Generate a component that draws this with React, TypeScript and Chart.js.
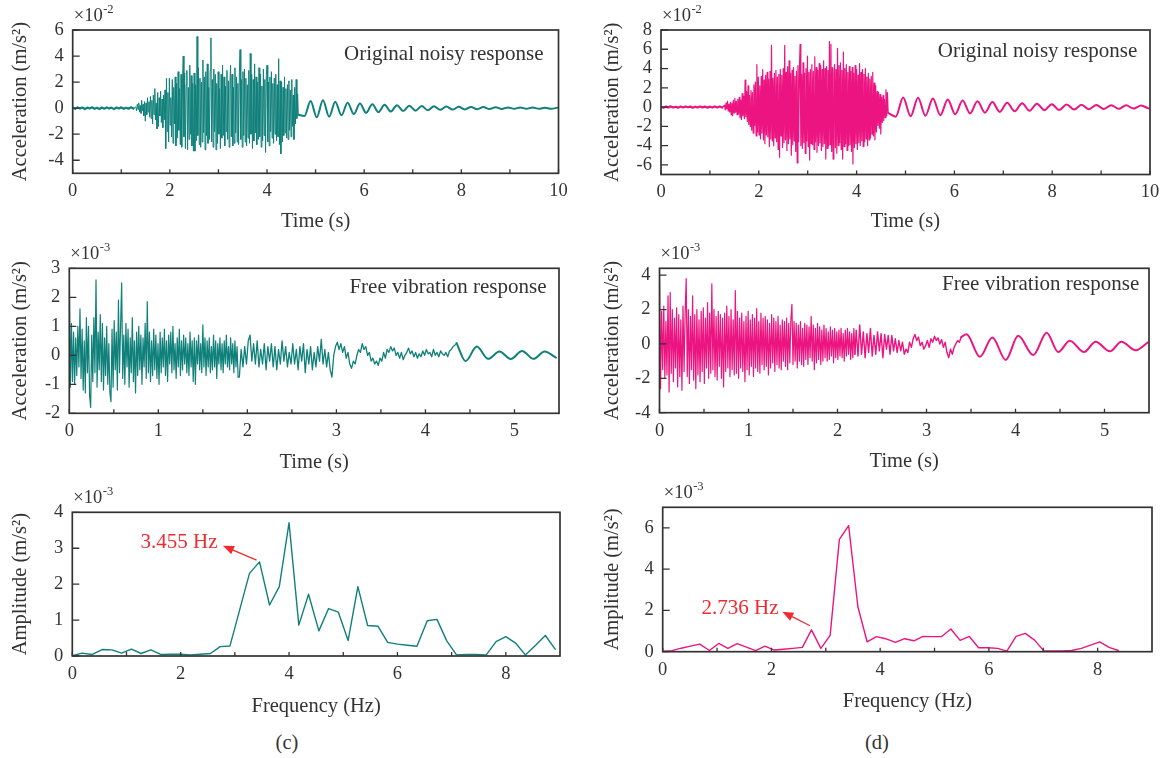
import React, { useEffect, useRef } from 'react';
import { Chart, registerables } from 'chart.js';

Chart.register(...registerables);

const FONT = '"Liberation Serif", "DejaVu Serif", serif';
const INK = '#333333';
const TEAL = '#10807a';
const PINK = '#ec1480';
const RED = '#ee2b30';
const TICK_SIZE = 18.5;
const TITLE_SIZE = 20.5;
const NOTE_SIZE = 21;

Chart.defaults.font.family = FONT;
Chart.defaults.color = INK;

// ---------------- (a) original noisy response, teal (×10^-2 m/s²) ----------------
const aQuietStart = 0;
const aQuietStep = 0.05;
const aQuiet = [0.03,-0.05,0.06,-0.03,0.05,-0.06,0.04,-0.02,0.07,-0.05,0.03,-0.06,0.05,-0.04,0.06,-0.03,0.04,-0.07,0.05,-0.02,0.06,-0.05,0.03,-0.04,0.07,-0.03];
const aBurstStart = 1.3;
const aBurstStep = 0.015;
const aBurst = [
  0.1,-0.2,0.3,-0.1,0.4,-0.3,0.2,-0.4,0.6,-0.2,
  0.3,-0.6,0.5,-1.0,0.4,-0.5,0.8,-0.3,0.5,-0.7,
  0.9,-0.8,0.6,-1.2,1.0,-0.5,1.5,-0.9,0.4,-1.6,
  1.2,-1.4,0.8,-0.6,1.3,-1.1,0.7,-1.5,1.0,-0.9,
  1.4,-3.1,2.3,-1.8,1.2,-2.6,2.3,-1.3,0.8,-2.2,
  2.2,-2.7,1.6,-1.2,2.4,-2.9,1.9,-2.3,2.8,-1.7,
  1.5,-2.8,2.6,-3.0,1.9,4.0,-2.2,2.7,-3.1,1.8,
  2.9,-3.2,1.6,-2.4,3.3,-2.0,2.5,-2.9,1.9,-3.3,
  2.7,-3.3,1.8,-2.5,5.5,-2.1,3.1,-2.8,2.3,-3.0,
  2.0,-2.6,3.7,-1.9,2.4,-3.2,2.8,-2.1,3.4,-2.7,
  1.6,-2.4,2.9,5.4,-2.6,2.2,-3.0,3.0,-1.8,2.6,
  -3.2,1.9,-2.7,2.8,-2.0,1.5,-3.1,2.6,-2.3,3.3,
  -2.1,2.4,-2.9,1.7,-1.8,2.9,-2.4,2.1,-3.0,1.8,
  3.3,-2.2,2.6,-2.9,1.6,-2.7,3.1,-1.9,2.4,-2.6,
  1.9,-2.8,2.7,4.5,-2.4,2.2,-3.0,2.8,-2.1,3.0,
  -2.6,2.3,-2.9,1.8,-2.3,2.9,-2.7,4.2,-2.0,2.6,
  -3.1,2.2,-2.5,3.4,-1.9,2.4,-2.8,2.0,-2.4,3.1,
  -2.2,2.6,-3.0,1.7,-2.5,3.0,-2.1,2.2,-3.4,2.5,
  3.3,-2.6,2.0,-2.9,2.4,-1.8,2.8,-2.3,1.9,-2.7,
  2.3,-2.0,2.6,-2.5,1.8,-2.2,3.8,-2.8,2.1,-3.5,
  2.0,-2.6,1.6,-2.1,2.4,-1.9,1.5,-2.3,1.8,-2.4,
  2.1,-1.7,1.4,-2.2,2.2,-1.4,1.0,-2.4,1.6,-1.2,
  2.2,-0.8,1.1,-0.5,
];
const aTailStart = 4.77;
const aTailStep = 0.127;
const aTail = [-0.6,0.55,-0.7,0.6,-0.65,0.5,-0.55,0.42,-0.45,0.35,-0.36,0.3,-0.3,0.26,-0.26,0.22,-0.22,0.19,-0.19,0.17,-0.16,0.14,-0.13,0.12,-0.11,0.1,-0.1,0.09,-0.08,0.08,-0.07,0.07,-0.06,0.06,-0.05,0.06,-0.05,0.05,-0.05,0.04,-0.05,0.04];

// ---------------- (b) original noisy response, pink (×10^-2 m/s²) ----------------
const bQuietStart = 0;
const bQuietStep = 0.05;
const bQuiet = [0.04,-0.06,0.05,-0.03,0.07,-0.05,0.03,-0.06,0.05,-0.04,0.06,-0.02,0.05,-0.07,0.04,-0.05,0.06,-0.03,0.05,-0.06,0.04,-0.05,0.07,-0.04,0.06,-0.05];
const bBurstStart = 1.3;
const bBurstStep = 0.015;
const bBurst = [
  0.2,-0.3,0.4,-0.2,0.6,-0.4,0.3,-0.5,0.5,-0.8,
  0.4,-0.9,0.7,-0.6,0.9,-0.5,0.6,-0.8,0.8,-0.7,
  1.0,-1.1,0.7,-1.3,1.4,-0.9,1.1,-1.2,2.8,-1.0,
  1.6,-1.5,2.2,-1.8,1.2,-2.0,1.7,-2.4,1.5,-2.7,
  2.3,-1.9,2.6,-3.0,4.4,-2.6,3.1,-2.9,2.2,-3.3,
  3.2,-2.7,3.9,-3.4,2.8,-3.8,3.3,-2.9,3.6,-3.1,
  2.9,-4.1,3.7,-3.3,6.4,-3.5,3.0,-4.0,3.5,-3.2,
  3.8,-3.6,3.1,-4.4,3.4,-5.2,3.9,-3.0,3.3,-4.2,
  4.0,-3.7,6.4,-3.4,3.6,-4.5,4.2,-3.8,4.8,-3.3,
  3.5,-5.0,3.8,-3.9,4.1,-3.5,3.2,-4.6,3.7,-5.8,
  4.3,-3.6,3.9,6.5,-4.0,3.4,-4.3,4.6,-3.7,3.5,
  -4.8,4.0,-3.5,5.3,-4.1,3.6,-5.5,3.9,-3.8,4.4,
  -3.9,3.7,-4.4,5.2,-3.6,4.1,-4.7,3.8,-4.0,4.5,
  -3.7,4.3,-4.5,3.9,-4.1,4.8,-3.8,4.0,-5.4,4.2,
  -4.3,3.8,-4.0,6.8,-3.9,6.5,-4.6,4.1,-5.4,3.7,
  4.4,-4.2,3.9,-4.8,6.1,-4.0,4.3,-3.7,4.6,-4.4,
  3.8,-5.4,5.7,-4.1,4.0,-3.8,4.4,-4.5,3.6,-4.0,
  4.2,-3.9,3.7,-4.6,4.1,-5.9,3.5,-4.2,4.3,-3.8,
  3.9,-4.4,3.3,-3.7,4.5,-4.0,3.6,-3.5,3.9,-4.1,
  3.4,-3.6,4.0,-3.3,3.1,-4.0,3.5,-3.4,2.9,-3.2,
  3.2,-2.8,3.6,-3.0,2.5,-3.4,2.2,-2.6,1.6,-1.9,
  1.5,-2.2,1.3,-2.8,1.0,-1.6,1.2,-1.4,0.8,-1.1,
  1.8,-0.9,1.5,-0.6,
];
const bTailStart = 4.8;
const bTailStep = 0.152;
const bTail = [-1.0,1.0,-0.95,0.98,-0.9,0.9,-0.85,0.78,-0.75,0.68,-0.66,0.6,-0.58,0.52,-0.5,0.45,-0.44,0.4,-0.38,0.35,-0.33,0.3,-0.3,0.27,-0.26,0.24,-0.23,0.22,-0.2,0.2,-0.18,0.18,-0.16,0.16,-0.14];

// ---------------- (c) free vibration response, teal (×10^-3 m/s²) ----------------
const cEarlyStart = 0;
const cEarlyStep = 0.012;
const cEarly = [
  2.9,-1.1,1.1,-0.9,0.8,-1.0,0.6,-0.7,1.0,-0.4,
  1.6,-0.8,0.9,-1.2,0.5,-1.3,1.3,-0.6,1.0,-1.4,
  -1.8,0.7,-0.9,1.3,-0.6,2.6,-1.1,0.8,-0.5,1.4,
  -0.9,1.1,-1.2,0.6,-0.7,1.0,-1.0,0.4,-1.3,-1.6,
  0.9,-1.1,1.2,-0.5,0.8,-1.2,1.9,-0.6,1.0,2.5,
  -0.8,0.7,-1.0,1.1,-0.4,0.9,-1.1,0.6,-0.6,1.3,
  -0.9,0.5,-1.3,0.8,-0.7,1.0,-0.5,0.7,-1.0,0.6,
  -0.4,1.1,-0.8,1.85,-0.6,0.8,-0.9,0.5,-0.7,0.9,
  -0.5,0.7,-0.8,0.4,-1.0,0.8,-0.6,0.6,-0.4,0.9,
  -0.7,0.5,-0.9,0.7,-0.3,0.8,-0.6,1.0,-0.5,0.4,
  -0.8,0.6,-0.4,0.9,-0.7,0.5,-0.5,0.7,-0.3,0.6,
  -0.6,0.4,-0.7,0.8,-0.4,0.5,-0.9,0.6,-1.0,0.5,
  -0.3,0.7,-0.5,0.4,-0.6,1.05,-0.4,0.6,-0.7,0.5,
  -0.4,0.6,-0.6,0.3,-0.5,0.7,-0.4,0.5,-0.8,0.4,
  -0.3,0.6,-0.5,0.4,-0.6,0.5,-0.3,0.7,-0.4,0.3,
  -0.5,0.6,-0.3,0.4,-0.6,0.5,-0.4,0.3,-0.75,
];
const cMidStart = 1.91;
const cMidStep = 0.02;
const cMid = [
  -0.75,0.2,-0.4,0.3,-0.3,0.5,0.7,-0.2,0.4,-0.3,
  0.5,-0.4,0.2,-0.3,0.4,-0.5,0.3,-0.2,0.4,-0.4,
  0.3,-0.5,0.2,-0.3,0.5,-0.2,0.3,-0.4,0.1,-0.3,
  0.4,-0.3,0.2,-0.5,0.3,-0.2,0.4,-0.6,0.2,-0.3,
  0.3,-0.5,0.1,-0.4,0.3,-0.2,0.55,-0.3,0.2,-0.4,
  0.1,-0.5,-0.75,0.0,0.3,0.45,0.2,0.4,0.1,0.3,
  -0.1,0.1,-0.3,-0.45,-0.2,-0.3,0.0,0.2,0.1,0.4,
  0.2,0.3,0.0,0.1,-0.2,-0.1,-0.3,-0.2,-0.35,-0.1,
  -0.2,0.1,-0.1,0.2,0.1,0.3,0.15,0.25,0.0,0.1,
  -0.1,0.1,-0.15,0.0,0.1,0.25,0.05,0.15,-0.05,0.1,
  -0.1,0.05,-0.05,0.15,0.0,0.2,0.05,0.1,-0.05,0.2,
  0.0,0.1,-0.05,0.15,0.05,0.0,0.1,-0.05,0.15,0.2,
  0.3,0.35,0.42,
];
const cTailStart = 4.45;
const cTailStep = 0.127;
const cTail = [-0.2,0.3,-0.12,0.13,-0.13,0.15,-0.12,0.13,-0.08];

// ---------------- (d) free vibration response, pink (×10^-3 m/s²) ----------------
const dEarlyStart = 0;
const dEarlyStep = 0.012;
const dEarly = [
  4.0,-2.6,1.9,-1.5,2.2,-2.0,1.3,-1.8,2.8,-2.8,
  3.0,-1.7,2.0,-2.2,1.5,-1.4,2.1,-2.5,1.7,-1.9,
  1.4,-2.7,2.2,-1.6,1.8,3.8,-1.9,2.0,-2.3,1.6,
  -1.5,2.8,-2.1,1.7,-2.6,2.0,-1.8,1.4,-2.2,1.9,
  -1.6,2.1,-2.3,1.5,-1.4,2.4,-2.0,1.8,-1.7,3.5,
  -1.5,2.0,-1.9,1.6,-2.1,1.9,-1.3,1.7,-2.0,1.5,
  -2.5,1.8,-1.6,2.2,-1.4,1.6,-1.9,2.0,-1.5,1.4,
  -1.8,3.1,-1.7,1.9,-2.0,1.5,-1.4,1.8,-1.6,1.3,
  -2.2,1.6,-1.5,1.9,-1.8,1.4,-1.3,1.7,-1.9,1.5,
  -1.4,2.05,-1.6,1.3,-1.7,1.8,-1.2,1.5,-1.5,1.6,
  -1.3,1.4,-1.8,1.2,-1.4,1.7,-1.1,1.5,-1.6,1.3,
  -1.2,1.6,-1.4,1.1,-1.5,1.4,-1.0,1.3,-1.3,1.5,
  -1.5,1.2,-1.1,1.4,2.3,-1.2,1.3,-1.0,1.2,-1.4,
  1.1,-1.0,1.3,-1.2,0.9,-1.3,1.2,-0.9,1.1,-1.2,
  1.0,-0.8,1.6,-1.0,1.1,-1.5,0.9,-1.1,1.2,-0.9,
  1.0,-1.2,0.8,-1.0,1.1,-0.8,0.9,-1.0,0.7,-0.9,
  1.0,-0.7,0.8,-1.1,0.9,-0.8,0.7,-0.9,0.8,-0.7,
  0.9,-0.8,0.6,-1.0,0.8,-0.7,0.9,-0.6,0.7,-0.9,
  0.6,-0.8,0.9,-0.6,
];
const dMidStart = 2.21;
const dMidStep = 0.02;
const dMid = [
  0.8,-0.7,1.1,-0.6,0.7,-0.8,0.6,-0.5,0.9,-0.7,
  0.5,-0.6,0.7,-0.4,0.6,-0.8,0.55,-0.3,0.5,-0.6,
  0.5,-0.4,0.3,-0.5,0.2,-0.4,0.1,-0.6,-0.3,-0.5,
  0.1,-0.2,0.3,0.55,0.2,0.4,-0.1,0.1,-0.3,-0.1,
  0.2,-0.2,0.3,0.1,0.45,0.2,0.35,0.0,0.25,-0.2,
  0.1,-0.5,-0.8,-0.3,-0.6,-0.2,0.0,0.2,0.1,0.4,
];
const dTailTimes = [3.45,3.6,3.74,3.89,4.03,4.2,4.35,4.48,4.61,4.77,4.9,5.06,5.19,5.35,5.49];
const dTail = [0.56,-0.75,0.37,-0.93,0.47,-0.65,0.65,-0.47,0.19,-0.47,0.13,-0.43,0.13,-0.37,0.1];

// ---------------- (e) spectrum, teal (×10^-3 m/s²) ----------------
const eFreq = [0,0.18,0.36,0.55,0.73,0.91,1.09,1.27,1.45,1.64,1.82,2.0,2.18,2.36,2.55,2.73,2.91,3.09,3.27,3.455,3.64,3.82,4.0,4.18,4.36,4.55,4.73,4.91,5.09,5.27,5.45,5.64,5.82,6.0,6.18,6.36,6.55,6.73,6.91,7.09,7.27,7.45,7.64,7.82,8.0,8.18,8.36,8.55,8.73,8.91];
const eAmp = [0.01,0.08,0.04,0.18,0.17,0.08,0.19,0.07,0.17,0.04,0.05,0.05,0.03,0.05,0.07,0.26,0.28,1.29,2.3,2.62,1.42,1.93,3.71,0.86,1.72,0.7,1.32,1.22,0.43,1.93,0.85,0.83,0.38,0.33,0.3,0.27,0.98,1.02,0.42,0.03,0.04,0.04,0.03,0.4,0.54,0.36,0.03,0.3,0.57,0.19];

// ---------------- (f) spectrum, pink (×10^-3 m/s²) ----------------
const fFreq = [0,0.17,0.34,0.51,0.68,0.86,1.03,1.2,1.37,1.54,1.71,1.88,2.05,2.22,2.39,2.57,2.736,2.91,3.08,3.25,3.42,3.59,3.76,3.93,4.1,4.28,4.45,4.62,4.79,4.96,5.13,5.3,5.47,5.64,5.81,5.99,6.16,6.33,6.5,6.67,6.84,7.01,7.18,7.35,7.52,7.7,7.87,8.04,8.21,8.38];
const fAmp = [0.02,0.05,0.17,0.27,0.37,0.06,0.4,0.16,0.39,0.22,0.05,0.27,0.08,0.12,0.16,0.21,1.06,0.16,0.79,5.45,6.11,2.18,0.48,0.73,0.63,0.45,0.63,0.53,0.74,0.73,0.74,1.1,0.55,0.74,0.19,0.19,0.16,0.03,0.74,0.89,0.56,0.04,0.04,0.04,0.06,0.16,0.32,0.48,0.21,0.06];

// ---------------- axes ----------------
const timeTicksLong = [0, 2, 4, 6, 8, 10];
const timeMinorLong = [1, 3, 5, 7, 9];
const timeTicksShort = [0, 1, 2, 3, 4, 5];
const timeMinorShort = [0.5, 1.5, 2.5, 3.5, 4.5];
const freqTicks = [0, 2, 4, 6, 8];
const freqMinor = [1, 3, 5, 7];
const aYTicks = [-4, -2, 0, 2, 4, 6];
const bYTicks = [-6, -4, -2, 0, 2, 4, 6, 8];
const cYTicks = [-2, -1, 0, 1, 2, 3];
const dYTicks = [-4, -2, 0, 2, 4];
const eYTicks = [0, 1, 2, 3, 4];
const fYTicks = [0, 2, 4, 6];

const sampled = (start: number, step: number, values: number[]) =>
  values.map((v, i) => ({ x: +(start + i * step).toFixed(4), y: v }));
const paired = (xs: number[], ys: number[]) => ys.map((v, i) => ({ x: xs[i], y: v }));

type Seg = { pts: { x: number; y: number }[]; width: number; smooth?: boolean };

type Spec = {
  box: number[];
  area: number[];
  yTitleX: number;
  xTitleY: number;
  xMin: number; xMax: number; xTicks: number[]; xMinor: number[];
  yMin: number; yMax: number; yTicks: number[];
  xTitle: string; yTitle: string; exp: string;
  color: string;
  segs: Seg[];
  note?: { text: string; right: number; base: number };
  arrow?: { text: string; textAt: number[]; from: number[]; to: number[] };
};

const specs: Spec[] = [
  {
    box: [0, 0, 583, 240], area: [72.7, 30, 558.5, 173.3], yTitleX: 21, xTitleY: 222,
    xMin: 0, xMax: 10, xTicks: timeTicksLong, xMinor: timeMinorLong,
    yMin: -5, yMax: 6, yTicks: aYTicks,
    xTitle: 'Time (s)', yTitle: 'Acceleration (m/s²)', exp: '-2', color: TEAL,
    segs: [
      { pts: sampled(aQuietStart, aQuietStep, aQuiet), width: 2.2 },
      { pts: sampled(aBurstStart, aBurstStep, aBurst), width: 1.0 },
      { pts: sampled(aTailStart, aTailStep, aTail), width: 2, smooth: true },
    ],
    note: { text: 'Original noisy response', right: 543.5, base: 60 },
  },
  {
    box: [590, 0, 577, 240], area: [661, 30, 1150, 174.5], yTitleX: 613, xTitleY: 222,
    xMin: 0, xMax: 10, xTicks: timeTicksLong, xMinor: timeMinorLong,
    yMin: -7, yMax: 8, yTicks: bYTicks,
    xTitle: 'Time (s)', yTitle: 'Acceleration (m/s²)', exp: '-2', color: PINK,
    segs: [
      { pts: sampled(bQuietStart, bQuietStep, bQuiet), width: 2.2 },
      { pts: sampled(bBurstStart, bBurstStep, bBurst), width: 1.2 },
      { pts: sampled(bTailStart, bTailStep, bTail), width: 2, smooth: true },
    ],
    note: { text: 'Original noisy response', right: 1137.3, base: 57.3 },
  },
  {
    box: [0, 240, 583, 240], area: [69.3, 268.3, 559, 413.3], yTitleX: 21, xTitleY: 462.5,
    xMin: 0, xMax: 5.5, xTicks: timeTicksShort, xMinor: timeMinorShort,
    yMin: -2, yMax: 3, yTicks: cYTicks,
    xTitle: 'Time (s)', yTitle: 'Acceleration (m/s²)', exp: '-3', color: TEAL,
    segs: [
      { pts: sampled(cEarlyStart, cEarlyStep, cEarly), width: 1.2 },
      { pts: sampled(cMidStart, cMidStep, cMid), width: 1.3 },
      { pts: sampled(cTailStart, cTailStep, cTail), width: 2, smooth: true },
    ],
    note: { text: 'Free vibration response', right: 546.5, base: 293.3 },
  },
  {
    box: [590, 240, 577, 240], area: [659.5, 268.3, 1149, 412.7], yTitleX: 613, xTitleY: 462,
    xMin: 0, xMax: 5.5, xTicks: timeTicksShort, xMinor: timeMinorShort,
    yMin: -4, yMax: 4.4, yTicks: dYTicks,
    xTitle: 'Time (s)', yTitle: 'Acceleration (m/s²)', exp: '-3', color: PINK,
    segs: [
      { pts: sampled(dEarlyStart, dEarlyStep, dEarly), width: 1.2 },
      { pts: sampled(dMidStart, dMidStep, dMid), width: 1.4 },
      { pts: paired(dTailTimes, dTail), width: 2, smooth: true },
    ],
    note: { text: 'Free vibration response', right: 1139.2, base: 290 },
  },
  {
    box: [0, 480, 583, 240], area: [72.3, 512.3, 560, 656], yTitleX: 21, xTitleY: 706.5,
    xMin: 0, xMax: 9, xTicks: freqTicks, xMinor: freqMinor,
    yMin: 0, yMax: 4, yTicks: eYTicks,
    xTitle: 'Frequency (Hz)', yTitle: 'Amplitude (m/s²)', exp: '-3', color: TEAL,
    segs: [{ pts: paired(eFreq, eAmp), width: 1.4 }],
    arrow: { text: '3.455 Hz', textAt: [2.68, 3.0], from: [3.4, 2.67], to: [2.78, 3.07] },
  },
  {
    box: [590, 480, 577, 240], area: [662.7, 507.3, 1152, 651.7], yTitleX: 613, xTitleY: 701.7,
    xMin: 0, xMax: 9, xTicks: freqTicks, xMinor: freqMinor,
    yMin: 0, yMax: 7, yTicks: fYTicks,
    xTitle: 'Frequency (Hz)', yTitle: 'Amplitude (m/s²)', exp: '-3', color: PINK,
    segs: [{ pts: paired(fFreq, fAmp), width: 1.4 }],
    arrow: { text: '2.736 Hz', textAt: [2.13, 1.83], from: [2.71, 1.26], to: [2.2, 1.94] },
  },
];

function decor(spec: Spec) {
  const [bl, bt] = spec.box;
  return {
    id: 'decor',
    afterDraw(chart: any) {
      const { ctx, chartArea: a, scales } = chart;
      const x = scales.x;
      const y = scales.y;
      ctx.save();
      ctx.strokeStyle = INK;
      ctx.lineWidth = 1.3;
      ctx.beginPath();
      spec.yTicks.forEach((v) => {
        const py = y.getPixelForValue(v);
        ctx.moveTo(a.left, py);
        ctx.lineTo(a.left + 7, py);
      });
      [...spec.xTicks, ...spec.xMinor].forEach((v) => {
        const px = x.getPixelForValue(v);
        ctx.moveTo(px, a.bottom);
        ctx.lineTo(px, a.bottom - 4);
      });
      ctx.stroke();
      ctx.lineWidth = 1.7;
      ctx.strokeRect(a.left, a.top, a.right - a.left, a.bottom - a.top);

      // exponent label
      ctx.fillStyle = INK;
      ctx.textAlign = 'left';
      ctx.textBaseline = 'alphabetic';
      ctx.font = `18.5px ${FONT}`;
      const ex = a.left + 1;
      const ey = a.top - 9.5;
      ctx.fillText('×10', ex, ey);
      const w = ctx.measureText('×10').width;
      ctx.font = `12.5px ${FONT}`;
      ctx.fillText(spec.exp, ex + w + 0.5, ey - 8);

      if (spec.note) {
        ctx.font = `${NOTE_SIZE}px ${FONT}`;
        ctx.textAlign = 'right';
        ctx.fillStyle = INK;
        ctx.fillText(spec.note.text, spec.note.right - bl, spec.note.base - bt);
      }
      if (spec.arrow) {
        const ar = spec.arrow;
        ctx.fillStyle = RED;
        ctx.strokeStyle = RED;
        ctx.font = `21px ${FONT}`;
        ctx.textAlign = 'right';
        ctx.fillText(ar.text, x.getPixelForValue(ar.textAt[0]), y.getPixelForValue(ar.textAt[1]));
        const fx = x.getPixelForValue(ar.from[0]);
        const fy = y.getPixelForValue(ar.from[1]);
        const tx = x.getPixelForValue(ar.to[0]);
        const ty = y.getPixelForValue(ar.to[1]);
        const ang = Math.atan2(ty - fy, tx - fx);
        const hl = 11;
        const hw = 4.5;
        const bx = tx - hl * Math.cos(ang);
        const by = ty - hl * Math.sin(ang);
        ctx.lineWidth = 1.3;
        ctx.beginPath();
        ctx.moveTo(fx, fy);
        ctx.lineTo(bx, by);
        ctx.stroke();
        ctx.beginPath();
        ctx.moveTo(tx, ty);
        ctx.lineTo(bx + hw * Math.sin(ang), by - hw * Math.cos(ang));
        ctx.lineTo(bx - hw * Math.sin(ang), by + hw * Math.cos(ang));
        ctx.closePath();
        ctx.fill();
      }
      ctx.restore();
    },
  };
}

function buildConfig(spec: Spec): any {
  const [bl, bt, bw, bh] = spec.box;
  const [al, at, ar, ab] = spec.area;
  const lh = TITLE_SIZE * 1.2;
  const datasets = spec.segs.map((s, i) => {
    const prev = i > 0 ? spec.segs[i - 1].pts : null;
    const data = prev ? [prev[prev.length - 1], ...s.pts] : s.pts;
    return {
      data,
      borderColor: spec.color,
      borderWidth: s.width,
      pointRadius: 0,
      fill: false,
      tension: 0,
      cubicInterpolationMode: s.smooth ? 'monotone' : 'default',
      borderJoinStyle: 'round',
      borderCapStyle: 'round',
    };
  });
  const tickFont = { family: FONT, size: TICK_SIZE };
  const titleFont = { family: FONT, size: TITLE_SIZE };
  return {
    type: 'line',
    data: { datasets },
    options: {
      responsive: false,
      animation: false,
      events: [],
      layout: { padding: { left: 0, top: at - bt, right: bl + bw - ar, bottom: 0 } },
      plugins: { legend: { display: false }, tooltip: { enabled: false }, title: { display: false } },
      scales: {
        x: {
          type: 'linear',
          position: 'bottom',
          min: spec.xMin,
          max: spec.xMax,
          afterBuildTicks: (s: any) => { s.ticks = spec.xTicks.map((v) => ({ value: v })); },
          afterFit: (s: any) => { s.height = bt + bh - ab; },
          grid: { display: false, drawTicks: false, tickLength: 0 },
          border: { display: false },
          ticks: { font: tickFont, color: INK, padding: 7, maxRotation: 0, autoSkip: false, callback: (v: any) => String(v) },
          title: { display: true, text: spec.xTitle, font: titleFont, color: INK, padding: { top: 0, bottom: bt + bh - spec.xTitleY - lh / 2 } },
        },
        y: {
          type: 'linear',
          position: 'left',
          min: spec.yMin,
          max: spec.yMax,
          afterBuildTicks: (s: any) => { s.ticks = spec.yTicks.map((v) => ({ value: v })); },
          afterFit: (s: any) => { s.width = al - bl; },
          grid: { display: false, drawTicks: false, tickLength: 0 },
          border: { display: false },
          ticks: { font: tickFont, color: INK, padding: 9, autoSkip: false, callback: (v: any) => String(v) },
          title: { display: true, text: spec.yTitle, font: titleFont, color: INK, padding: { top: spec.yTitleX - bl - lh / 2, bottom: 0 } },
        },
      },
    },
    plugins: [decor(spec)],
  };
}

function Panel({ spec }: { spec: Spec }) {
  const ref = useRef<HTMLCanvasElement>(null);
  useEffect(() => {
    const chart = new Chart(ref.current as HTMLCanvasElement, buildConfig(spec));
    return () => chart.destroy();
  }, [spec]);
  const [l, t, w, h] = spec.box;
  return (
    <canvas
      ref={ref}
      width={w}
      height={h}
      style={{ position: 'absolute', left: l, top: t, width: w, height: h }}
    />
  );
}

const captionStyle = (cx: number): React.CSSProperties => ({
  position: 'absolute',
  left: cx - 40,
  top: 730,
  width: 80,
  textAlign: 'center',
  fontFamily: FONT,
  fontSize: 20.5,
  lineHeight: '24px',
  color: INK,
});

export default function App() {
  return (
    <div style={{ position: 'absolute', left: 0, top: 0, width: 1167, height: 758, background: '#ffffff', overflow: 'hidden' }}>
      {specs.map((s, i) => (
        <Panel key={i} spec={s} />
      ))}
      <div style={captionStyle(287)}>(c)</div>
      <div style={captionStyle(877)}>(d)</div>
    </div>
  );
}
